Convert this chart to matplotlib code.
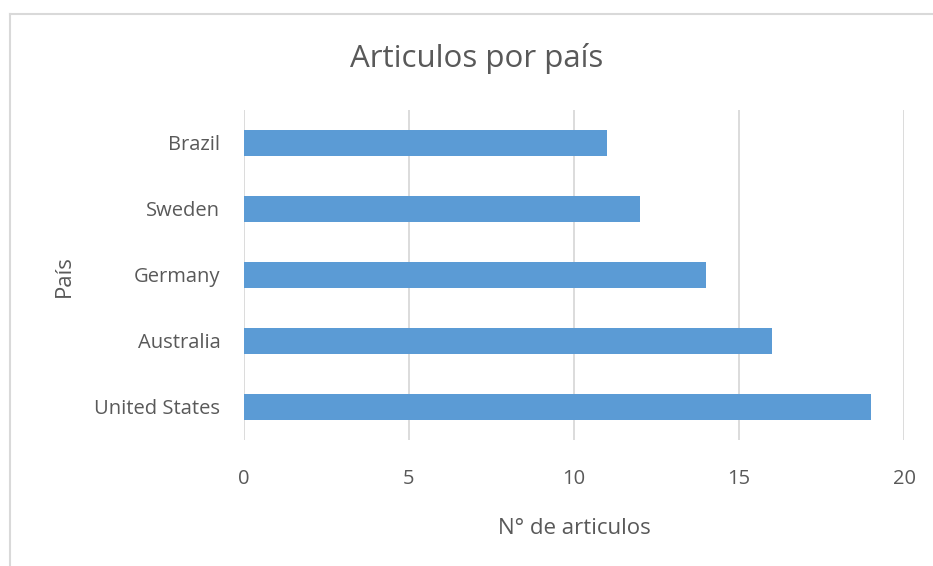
import matplotlib.pyplot as plt
from matplotlib.lines import Line2D

paises = ['United States', 'Australia', 'Germany', 'Sweden', 'Brazil']
articulos = [19, 16, 14, 12, 11]
xticks = [0, 5, 10, 15, 20]

plt.rcParams['font.family'] = ['Open Sans', 'DejaVu Sans']
gris = '#595959'

fig = plt.figure(figsize=(9.33, 5.66), dpi=100)
ax = fig.add_axes([244/933, 1-440/566, 660/933, 330/566])

ax.barh(range(len(paises)), articulos, height=0.4, color='#5B9BD5')
ax.set_ylim(-0.5, len(paises) - 0.5)
ax.set_xlim(0, 20)
ax.set_xticks(xticks)
ax.set_yticks(range(len(paises)))
ax.set_yticklabels(paises)
ax.tick_params(length=0, labelsize=14.5, colors=gris)
ax.tick_params(axis='x', pad=21)
ax.tick_params(axis='y', pad=17)
ax.xaxis.grid(True, color='#D9D9D9', linewidth=1.3)
ax.set_axisbelow(True)
for s in ax.spines.values():
    s.set_visible(False)

fig.text(574/933, 1-528/566, 'N° de articulos', fontsize=16, color=gris,
         ha='center', va='center')
fig.text(64/933, 1-276/566, 'País', fontsize=16, color=gris,
         ha='center', va='center', rotation=90)
fig.text(477/933, 1-58/566, 'Articulos por país', fontsize=22.5, color=gris,
         ha='center', va='center')

# chart border
fig.add_artist(Line2D([10/933, 10/933], [0, 1-14/566], color='#D9D9D9', lw=1.5))
fig.add_artist(Line2D([10/933, 1], [1-14/566, 1-14/566], color='#D9D9D9', lw=1.5))

fig.savefig('out.png', dpi=100)
